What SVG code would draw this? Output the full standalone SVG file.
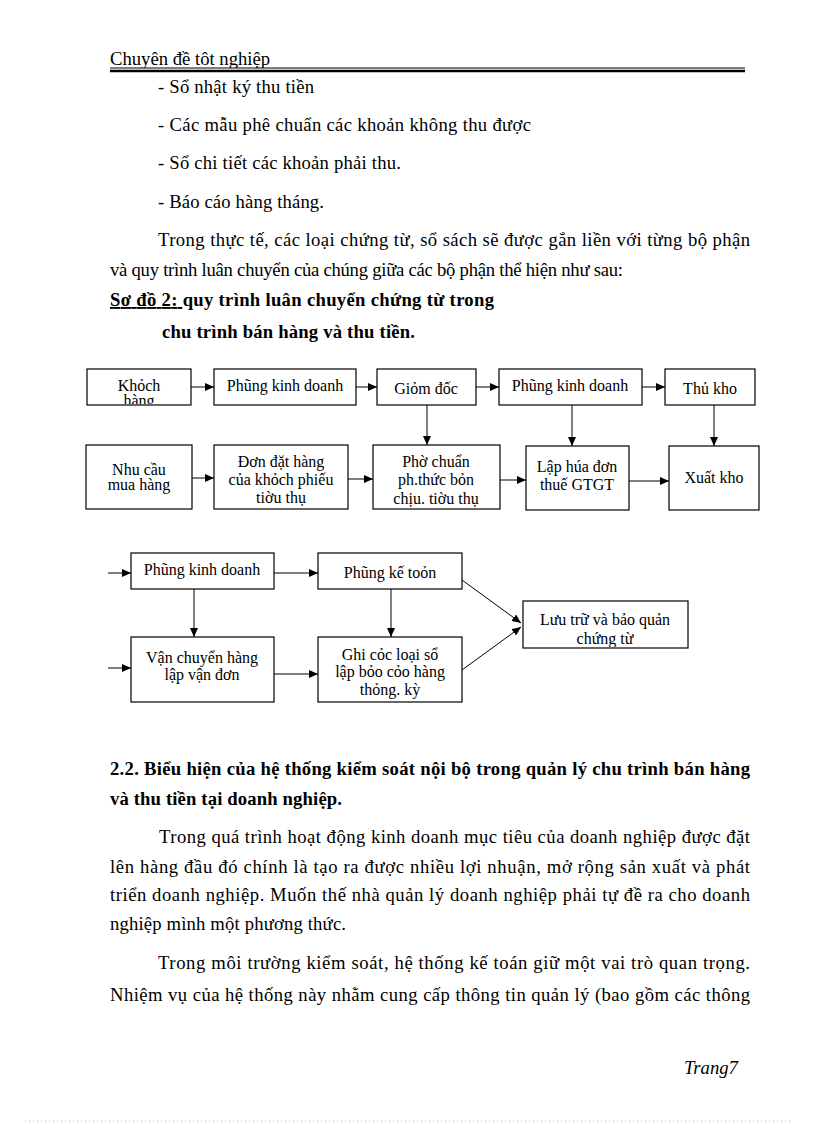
<svg xmlns="http://www.w3.org/2000/svg" width="816" height="1123" viewBox="0 0 816 1123">
<style>
.b{font-family:"Liberation Serif","Times New Roman",serif;font-size:18.67px;fill:#000}
.bb{font-family:"Liberation Serif","Times New Roman",serif;font-size:18.67px;font-weight:bold;fill:#000}
.t{font-family:"Liberation Serif","Times New Roman",serif;font-size:16px;fill:#000;text-anchor:middle}
.box{fill:#fff;stroke:#000;stroke-width:1.2}
.c{stroke:#000;stroke-width:1;fill:none;marker-end:url(#ah)}
</style>
<defs>
<marker id="ah" markerUnits="userSpaceOnUse" markerWidth="9" markerHeight="8" refX="9" refY="4" orient="auto"><path d="M0,0 L9,4 L0,8 z" fill="#000"/></marker>
<clipPath id="k1"><rect x="87" y="369" width="104" height="35"/></clipPath>
<clipPath id="k8"><rect x="373" y="445" width="127" height="62"/></clipPath>
<clipPath id="k14"><rect x="318" y="637" width="144" height="63"/></clipPath>
<clipPath id="k15"><rect x="523" y="601" width="165" height="46"/></clipPath>
<clipPath id="kh"><rect x="100" y="40" width="200" height="28"/></clipPath>
</defs>
<rect width="816" height="1123" fill="#fff"/>

<g id="header">
<text class="b" x="110" y="65" clip-path="url(#kh)">Chuyên đề tôt nghiệp</text>
<line x1="110" y1="68" x2="745" y2="68" stroke="#000" stroke-width="1"/>
<line x1="110" y1="71" x2="745" y2="71" stroke="#000" stroke-width="2.5"/>
</g>

<g id="body-top">
<text class="b" x="158" y="93" textLength="156" lengthAdjust="spacing">- Sổ nhật ký thu tiền</text>
<text class="b" x="158" y="131" textLength="373" lengthAdjust="spacing">- Các mẫu phê chuẩn các khoản không thu được</text>
<text class="b" x="158" y="169" textLength="243" lengthAdjust="spacing">- Sổ chi tiết các khoản phải thu.</text>
<text class="b" x="158" y="208" textLength="166" lengthAdjust="spacing">- Báo cáo hàng tháng.</text>
<text class="b" x="158" y="246" textLength="592" lengthAdjust="spacing">Trong thực tế, các loại chứng từ, sổ sách sẽ được gắn liền với từng bộ phận</text>
<text class="b" x="110" y="276" textLength="513" lengthAdjust="spacing">và quy trình luân chuyển của chúng giữa các bộ phận thể hiện như sau:</text>
<text class="bb" x="110" y="306" textLength="384" lengthAdjust="spacing"><tspan text-decoration="underline">Sơ đồ 2: </tspan> quy trình luân chuyển chứng từ trong</text>
<text class="bb" x="162" y="338" textLength="253" lengthAdjust="spacing">chu trình bán hàng và thu tiền.</text>
</g>

<g id="n1"><rect class="box" x="87" y="369" width="104" height="36"/><g clip-path="url(#k1)"><text class="t" x="139" y="391">Khỏch</text><text class="t" x="139" y="406">hàng</text></g></g>
<g id="n2"><rect class="box" x="214" y="369" width="142" height="36"/><text class="t" x="285" y="391">Phũng kinh doanh</text></g>
<g id="n3"><rect class="box" x="377" y="369" width="99" height="36"/><text class="t" x="426" y="394">Giỏm đốc</text></g>
<g id="n4"><rect class="box" x="499" y="369" width="143" height="36"/><text class="t" x="570" y="391">Phũng kinh doanh</text></g>
<g id="n5"><rect class="box" x="665" y="369" width="90" height="36"/><text class="t" x="710" y="394">Thủ kho</text></g>
<g id="n6"><rect class="box" x="86" y="445" width="106" height="64"/><text class="t" x="139" y="475">Nhu cầu</text><text class="t" x="139" y="490">mua hàng</text></g>
<g id="n7"><rect class="box" x="214" y="445" width="134" height="64"/><text class="t" x="281" y="467">Đơn đặt hàng</text><text class="t" x="281" y="485">của khỏch phiếu</text><text class="t" x="281" y="503">tiờu thụ</text></g>
<g id="n8"><rect class="box" x="373" y="445" width="127" height="64"/><g clip-path="url(#k8)"><text class="t" x="436" y="467">Phờ chuẩn</text><text class="t" x="436" y="485">ph.thức  bỏn</text><text class="t" x="436" y="504">chịu. tiờu thụ</text></g></g>
<g id="n9"><rect class="box" x="526" y="446" width="103" height="64"/><text class="t" x="577" y="472">Lập húa đơn</text><text class="t" x="577" y="490">thuế GTGT</text></g>
<g id="n10"><rect class="box" x="669" y="446" width="90" height="64"/><text class="t" x="714" y="483">Xuất kho</text></g>

<g id="n11"><rect class="box" x="131" y="553" width="143" height="36"/><text class="t" x="202" y="575">Phũng kinh doanh</text></g>
<g id="n12"><rect class="box" x="318" y="553" width="144" height="36"/><text class="t" x="390" y="578">Phũng kế toỏn</text></g>
<g id="n13"><rect class="box" x="131" y="637" width="143" height="65"/><text class="t" x="202" y="663">Vận chuyển hàng</text><text class="t" x="202" y="680">lập vận đơn</text></g>
<g id="n14"><rect class="box" x="318" y="637" width="144" height="65"/><g clip-path="url(#k14)"><text class="t" x="390" y="660">Ghi cỏc loại sổ</text><text class="t" x="390" y="677">lập bỏo cỏo hàng</text><text class="t" x="390" y="695">thỏng. kỳ</text></g></g>
<g id="n15"><rect class="box" x="523" y="601" width="165" height="47"/><g clip-path="url(#k15)"><text class="t" x="605" y="625">Lưu trữ  và bảo quản</text><text class="t" x="605" y="644">chứng từ</text></g></g>

<g id="connectors">
<line class="c" x1="191" y1="387" x2="214" y2="387"/>
<line class="c" x1="356" y1="387" x2="377" y2="387"/>
<line class="c" x1="476" y1="387" x2="499" y2="387"/>
<line class="c" x1="642" y1="387" x2="665" y2="387"/>
<line class="c" x1="427" y1="405" x2="427" y2="445"/>
<line class="c" x1="572" y1="405" x2="572" y2="446"/>
<line class="c" x1="714" y1="405" x2="714" y2="446"/>
<line class="c" x1="192" y1="478" x2="214" y2="478"/>
<line class="c" x1="348" y1="479" x2="373" y2="479"/>
<line class="c" x1="500" y1="480" x2="526" y2="480"/>
<line class="c" x1="629" y1="481" x2="669" y2="481"/>
<line class="c" x1="108" y1="573" x2="131" y2="573"/>
<line class="c" x1="108" y1="668" x2="131" y2="668"/>
<line class="c" x1="274" y1="573" x2="318" y2="573"/>
<line class="c" x1="274" y1="674" x2="318" y2="674"/>
<line class="c" x1="194" y1="589" x2="194" y2="637"/>
<line class="c" x1="391" y1="589" x2="391" y2="637"/>
<line class="c" x1="462" y1="580" x2="521" y2="623"/>
<line class="c" x1="462" y1="670" x2="521" y2="627"/>
</g>

<g id="body-bottom">
<text class="bb" x="110" y="775" textLength="640" lengthAdjust="spacing">2.2. Biểu hiện của hệ thống kiểm soát nội bộ trong quản lý chu trình bán hàng</text>
<text class="bb" x="110" y="805" textLength="232" lengthAdjust="spacing">và thu tiền tại doanh nghiệp.</text>
<text class="b" x="159" y="843" textLength="591" lengthAdjust="spacing">Trong quá trình hoạt động kinh doanh mục tiêu của doanh nghiệp được đặt</text>
<text class="b" x="110" y="873" textLength="640" lengthAdjust="spacing">lên hàng đầu đó chính là tạo ra được nhiều lợi nhuận, mở rộng sản xuất và phát</text>
<text class="b" x="110" y="901" textLength="640" lengthAdjust="spacing">triển doanh nghiệp. Muốn thế nhà quản lý doanh nghiệp phải tự đề ra cho doanh</text>
<text class="b" x="110" y="930" textLength="236" lengthAdjust="spacing">nghiệp mình một phương thức.</text>
<text class="b" x="158" y="969" textLength="592" lengthAdjust="spacing">Trong môi trường kiểm soát, hệ thống kế toán giữ một vai trò quan trọng.</text>
<text class="b" x="110" y="1001" textLength="640" lengthAdjust="spacing">Nhiệm vụ của hệ thống này nhằm cung cấp thông tin quản lý (bao gồm các thông</text>
</g>

<g id="footer">
<text class="b" x="684" y="1074" font-style="italic">Trang7</text>
<line x1="25" y1="1121" x2="790" y2="1121" stroke="#bbb" stroke-width="1" stroke-dasharray="1,3"/>
</g>
</svg>
